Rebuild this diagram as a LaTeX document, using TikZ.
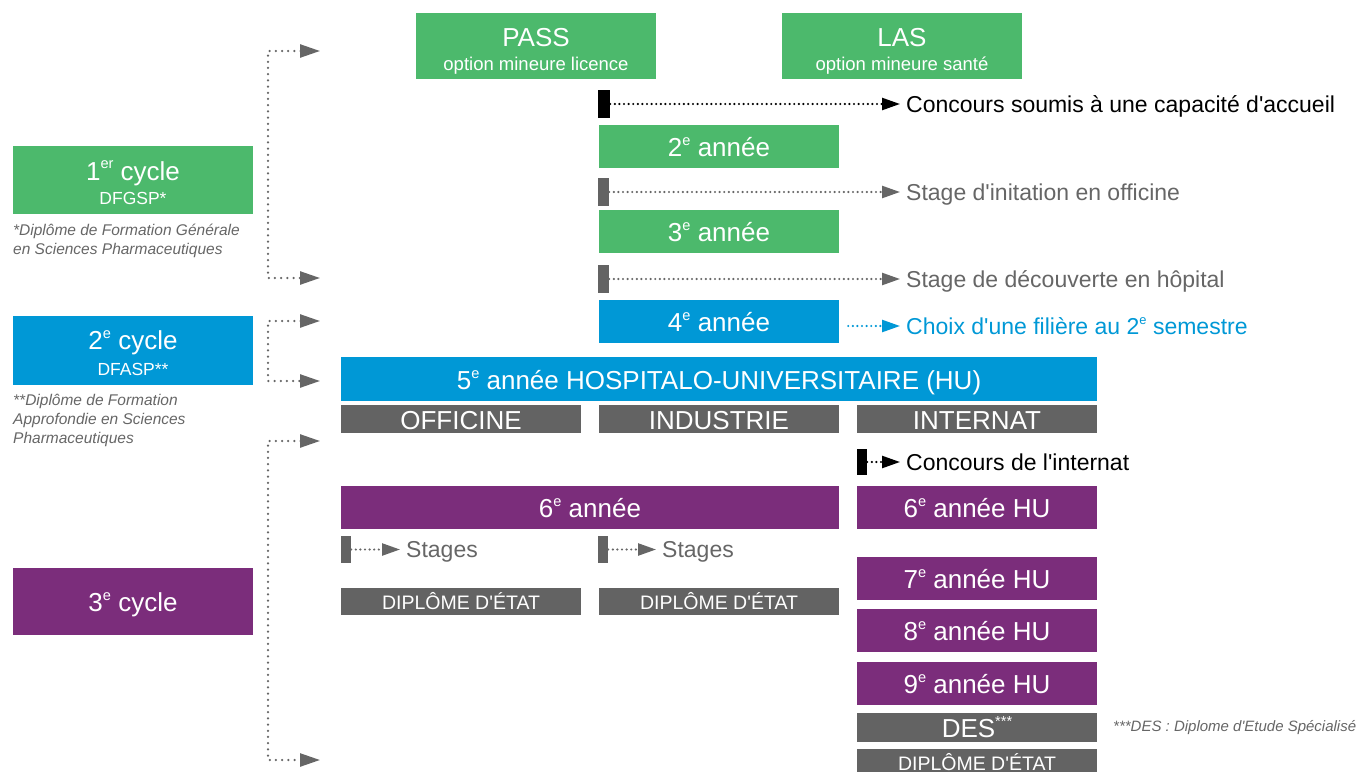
\documentclass[tikz,border=0pt]{standalone}
\usepackage{graphicx}
\usepackage{fontspec}
\setmainfont{Liberation Sans}
\usetikzlibrary{arrows.meta}

\definecolor{pgreen}{RGB}{76,185,108}
\definecolor{pblue}{RGB}{0,152,214}
\definecolor{ppurple}{RGB}{123,45,123}
\definecolor{pgray}{RGB}{99,99,99}
\definecolor{ptext}{RGB}{102,102,102}

\newcommand{\bigfont}{\fontsize{26}{24}\selectfont}
\newcommand{\midfont}{\fontsize{23}{26}\selectfont}
\newcommand{\smallfont}{\fontsize{19.5}{22}\selectfont}
\newcommand{\notefont}{\fontsize{15.5}{19}\selectfont}
\newcommand{\ordsup}[1]{\raisebox{0.43em}{\scalebox{0.56}{#1}}}
\newcommand{\apos}{\textquotesingle}

\begin{document}
\begin{tikzpicture}[x=1pt,y=-1pt,
    box node/.style={rectangle,inner sep=0pt,text=white,font=\bigfont,
      text height=20.6pt,text depth=0pt,minimum width=240pt,minimum height=43pt},
    green node/.style={box node,fill=pgreen},
    blue node/.style={box node,fill=pblue},
    purple node/.style={box node,fill=ppurple},
    gray node/.style={box node,fill=pgray,minimum height=28pt},
    cycle node/.style={rectangle,inner sep=0pt,text=white,align=center,minimum width=240pt,
      text depth=0pt},
    mark node/.style={rectangle,inner sep=0pt,minimum width=11pt,minimum height=28pt},
    label node/.style={anchor=west,inner sep=0pt,font=\midfont,text height=16.5pt,text depth=0pt},
    note node/.style={anchor=north west,inner sep=0pt,align=left,text=ptext,font=\notefont\itshape},
    dotted link/.style={line width=2.4pt,line cap=round,dash pattern=on 0pt off 4.6pt,
      -{Triangle[length=18pt,width=12pt]},shorten >=6pt},
    bracket link/.style={color=ptext,line width=2.5pt,line cap=round,dash pattern=on 0pt off 6.2pt,
      {Triangle[length=20pt,width=13pt]}-{Triangle[length=20pt,width=13pt]}}]

    \useasboundingbox (0,0) rectangle (1367,771);
    \clip (0,0) rectangle (1367,771);

    % cycles
    \node[cycle node, fill=pgreen, minimum height=68pt, text height=48pt,
          font=\fontsize{17.5}{24}\selectfont] (cyc1) at (133,180)
        {{\bigfont 1\ordsup{er} cycle}\\DFGSP*};
    \node[note node] (note1) at (13,224)
        {*Diplôme de Formation Générale\\en Sciences Pharmaceutiques};
    \node[cycle node, fill=pblue, minimum height=69pt, text height=49pt,
          font=\fontsize{17.5}{25.5}\selectfont] (cyc2) at (133,350.5)
        {{\bigfont 2\ordsup{e} cycle}\\DFASP**};
    \node[note node] (note2) at (13,394)
        {**Diplôme de Formation\\Approfondie en Sciences\\Pharmaceutiques};
    \node[purple node, minimum height=67pt] (cyc3) at (133,601.5) {3\ordsup{e} cycle};

    \coordinate (b1a) at (320,51);   \coordinate (b1b) at (268,51);
    \coordinate (b1c) at (268,278);  \coordinate (b1d) at (320,278);
    \coordinate (b2a) at (320,321);  \coordinate (b2b) at (268,321);
    \coordinate (b2c) at (268,381);  \coordinate (b2d) at (320,381);
    \coordinate (b3a) at (320,441);  \coordinate (b3b) at (268,441);
    \coordinate (b3c) at (268,760);  \coordinate (b3d) at (320,760);
    \draw[bracket link] (b1a) -- (b1b) -- (b1c) -- (b1d);
    \draw[bracket link] (b2a) -- (b2b) -- (b2c) -- (b2d);
    \draw[bracket link] (b3a) -- (b3b) -- (b3c) -- (b3d);

    % first cycle
    \node[cycle node, fill=pgreen, minimum height=66pt, text height=48pt,
          font=\fontsize{18.5}{24}\selectfont] (pass) at (536,46)
        {{\bigfont PASS}\\option mineure licence};
    \node[cycle node, fill=pgreen, minimum height=66pt, text height=48pt,
          font=\fontsize{18.5}{24}\selectfont] (las) at (902,46)
        {{\bigfont LAS}\\option mineure santé};
    \node[mark node, fill=black, minimum width=12pt] (m1) at (604,104) {};
    \node[label node] (conc) at (906,104) {Concours soumis à une capacité d\apos accueil};
    \node[green node] (an2) at (719,146.5) {2\ordsup{e} année};
    \node[mark node, fill=pgray] (m2) at (603.5,192) {};
    \node[label node, text=ptext] (stg1) at (906,192) {Stage d\apos initation en officine};
    \node[green node] (an3) at (719,231.5) {3\ordsup{e} année};
    \node[mark node, fill=pgray] (m3) at (603.5,279) {};
    \node[label node, text=ptext] (stg2) at (906,279) {Stage de découverte en hôpital};

    % second cycle
    \node[blue node] (an4) at (719,321) {4\ordsup{e} année};
    \node[label node, text=pblue] (choix) at (906,326) {Choix d\apos une filière au 2\ordsup{e} semestre};
    \node[blue node, minimum width=756pt, minimum height=44pt] (an5) at (719,379)
        {5\ordsup{e} année HOSPITALO-UNIVERSITAIRE (HU)};
    \node[gray node] (offi) at (461,419) {OFFICINE};
    \node[gray node] (indu) at (719,419) {INDUSTRIE};
    \node[gray node] (inter) at (977,419) {INTERNAT};

    % third cycle
    \node[mark node, fill=black, minimum width=10pt, minimum height=26pt] (m4) at (862,462) {};
    \node[label node] (cint) at (906,462) {Concours de l\apos internat};
    \node[purple node, minimum width=498pt] (an6) at (590,507.5) {6\ordsup{e} année};
    \node[purple node] (hu6) at (977,507.5) {6\ordsup{e} année HU};
    \node[mark node, fill=pgray, minimum width=10pt, minimum height=27pt] (m5) at (346,549.5) {};
    \node[label node, text=ptext] (stg3) at (406,549.5) {Stages};
    \node[mark node, fill=pgray, minimum width=10pt, minimum height=27pt] (m6) at (603,549.5) {};
    \node[label node, text=ptext] (stg4) at (662,549.5) {Stages};
    \node[gray node, font=\smallfont, text height=15pt, minimum height=27pt] (de1) at (461,601.5) {DIPLÔME D\apos ÉTAT};
    \node[gray node, font=\smallfont, text height=15pt, minimum height=27pt] (de2) at (719,601.5) {DIPLÔME D\apos ÉTAT};
    \node[purple node] (hu7) at (977,578.5) {7\ordsup{e} année HU};
    \node[purple node] (hu8) at (977,630.5) {8\ordsup{e} année HU};
    \node[purple node] (hu9) at (977,683.5) {9\ordsup{e} année HU};
    \node[gray node, minimum height=29pt] (des) at (977,727.5) {DES\ordsup{***}};
    \node[note node, anchor=west, font=\fontsize{15}{17}\selectfont\itshape] (note3) at (1113,728)
        {***DES : Diplome d\apos Etude Spécialisé};
    \node[gray node, font=\smallfont, text height=15pt] (de3) at (977,763) {DIPLÔME D\apos ÉTAT};

    \path (m1) edge[dotted link, color=black] (conc)
          (m2) edge[dotted link, color=ptext] (stg1)
          (m3) edge[dotted link, color=ptext] (stg2)
          (m4) edge[dotted link, color=black] (cint)
          (m5) edge[dotted link, color=ptext] (stg3)
          (m6) edge[dotted link, color=ptext] (stg4);
    \path (an4.east |- choix.west) edge[dotted link, color=pblue, shorten <=9pt] (choix);

\end{tikzpicture}
\end{document}
